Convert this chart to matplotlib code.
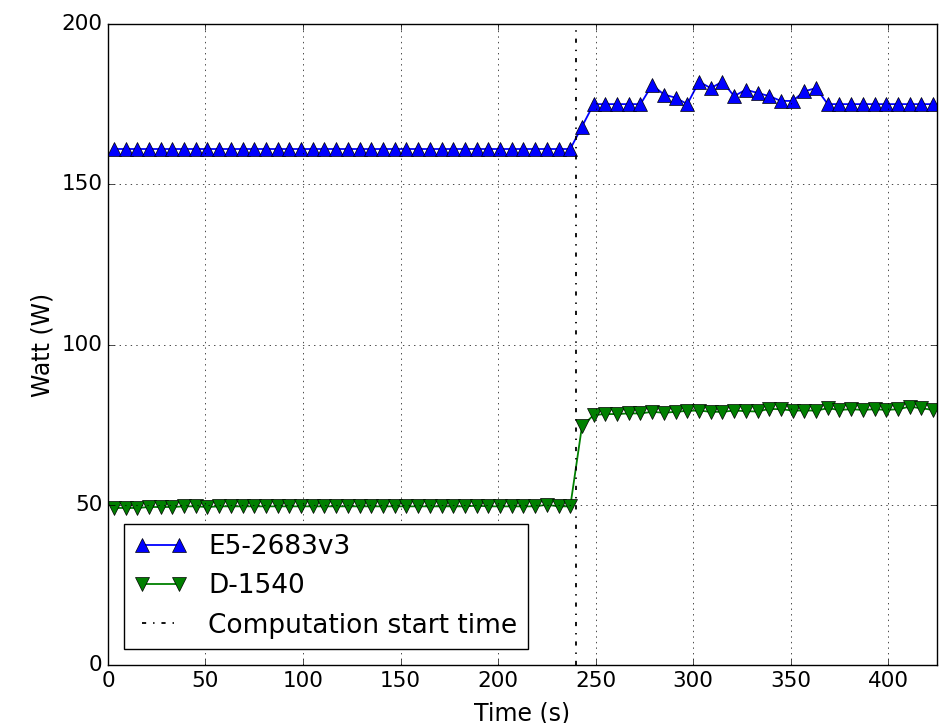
import numpy as np
import matplotlib
matplotlib.use("Agg")
import matplotlib.pyplot as plt

# sample times (s)
time_s = [3 + 6 * k for k in range(71)]

e5_watt = [161] * 40 + [168, 175, 175, 175, 175, 175,
                        181, 178, 177, 175, 182, 180, 182, 177.5, 179.5,
                        178.5, 177.5, 176, 176, 179, 180,
                        175, 175, 175, 175, 175, 175, 175, 175, 175, 175]

d1540_watt = [49, 49, 49, 49.3, 49.3, 49.3, 49.5, 49.5, 49.3, 49.5,
              49.5, 49.5, 49.5, 49.5, 49.5, 49.5, 49.5, 49.5, 49.5, 49.5,
              49.5, 49.5, 49.5, 49.5, 49.5, 49.5, 49.5, 49.5, 49.5, 49.5,
              49.5, 49.7, 49.5, 49.5, 49.5, 49.5, 49.5, 50, 49.5, 49.5,
              74.5, 78.0, 78.3, 78.3, 78.5, 78.5, 79.0, 78.7, 79.0, 79.3,
              79.4, 79.0, 79.0, 79.4, 79.2, 79.1, 79.9, 79.8, 79.4, 79.4,
              79.4, 80.1, 79.6, 79.8, 79.6, 79.8, 79.6, 79.8, 80.6, 80.1, 79.6]

start_time = 240

plt.style.use("classic")
plt.rcParams["font.size"] = 16
plt.rcParams["xtick.labelsize"] = 15.5
plt.rcParams["ytick.labelsize"] = 15.5
plt.rcParams["legend.fontsize"] = 19

fig = plt.figure(figsize=(9.42, 7.23), dpi=100, facecolor="white")
ax = fig.add_axes([0.1146, 0.0802, 0.8801, 0.8866])

ax.plot(time_s, e5_watt, "b-^", markersize=9.5, linewidth=1.3, label="E5-2683v3")
ax.plot(time_s, d1540_watt, "g-v", markersize=9.5, linewidth=1.3, label="D-1540")
ax.axvline(start_time, color="k", linestyle="-.", linewidth=1.3,
           label="Computation start time")

ax.set_xlim(0, 425)
ax.set_ylim(0, 200)
ax.set_yticks([0, 50, 100, 150, 200])
ax.set_xlabel("Time (s)", fontsize=17, labelpad=8)
ax.set_ylabel("Watt (W)", fontsize=17)
ax.grid(True)
ax.legend(loc="lower left", numpoints=2, borderaxespad=0.6)

fig.savefig("out.png", dpi=100, facecolor="white")
